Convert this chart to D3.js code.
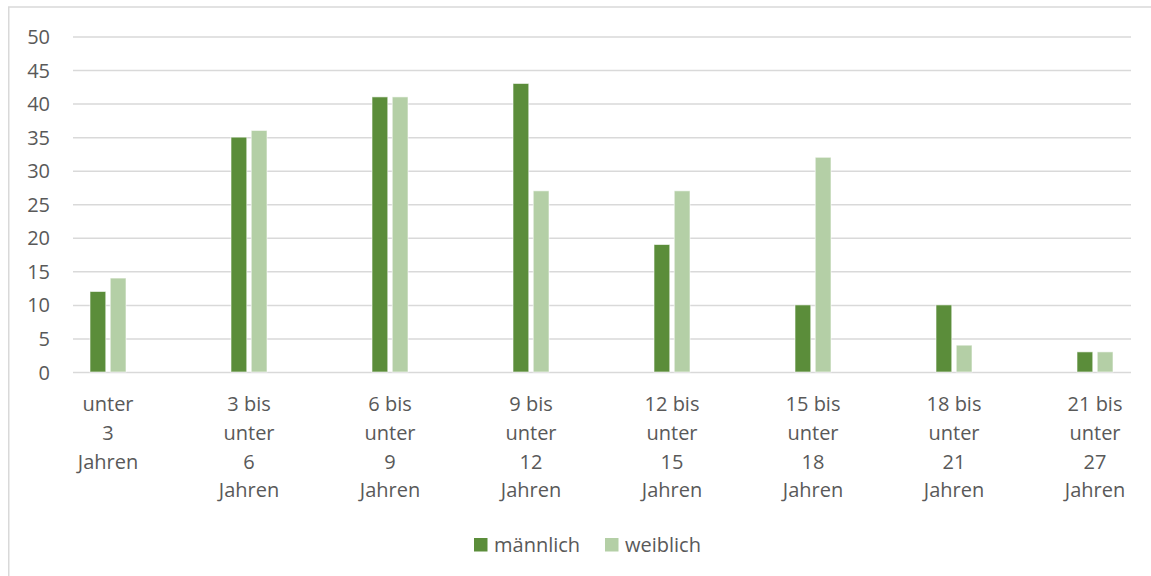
<!DOCTYPE html>
<html>
<head>
<meta charset="utf-8">
<script src="https://cdnjs.cloudflare.com/ajax/libs/d3/7.8.5/d3.min.js"></script>
<style>
  body { margin: 0; background: #fff; }
  svg text { font-family: "Open Sans", sans-serif; fill: #595959; }
</style>
</head>
<body>
<div id="chart"></div>
<script>
// Altersgruppen (mehrzeilige Beschriftung)
var categories = [
  ["unter", "3", "Jahren"],
  ["3 bis", "unter", "6", "Jahren"],
  ["6 bis", "unter", "9", "Jahren"],
  ["9 bis", "unter", "12", "Jahren"],
  ["12 bis", "unter", "15", "Jahren"],
  ["15 bis", "unter", "18", "Jahren"],
  ["18 bis", "unter", "21", "Jahren"],
  ["21 bis", "unter", "27", "Jahren"]
];
var seriesNames = ["männlich", "weiblich"];
var maennlich = [12, 35, 41, 43, 19, 10, 10, 3];
var weiblich = [14, 36, 41, 27, 27, 32, 4, 3];
var yTicks = [0, 5, 10, 15, 20, 25, 30, 35, 40, 45, 50];
var colors = ["#5b8d3a", "#b4cfa6"];

class BarChart {
    constructor(option) {
        for (let [key, value] of Object.entries(option)) {
            this[key] = value;
        }
        this.svg = d3.select(this.ele)
            .append("svg")
            .attr("width", this.width)
            .attr("height", this.height);
        this.draw();
    }
    draw() {
        var svg = this.svg;
        var keys = categories.map(function(d, i) { return i; });

        // Rahmen
        svg.append("rect")
            .attr("x", 8.75).attr("y", 7)
            .attr("width", 1300).attr("height", 800)
            .attr("fill", "none")
            .attr("stroke", "#d9d9d9")
            .attr("stroke-width", 1.5);

        var y = d3.scaleLinear().domain([0, 50]).range([372, 36.5]);
        var x = d3.scaleBand().domain(keys).range([37.5, 37.5 + 141 * 8]);
        var xs = d3.scaleBand().domain([0, 1]).range([-18, 18]).paddingInner(0.22);

        // Gitterlinien
        var yAxis = d3.axisLeft(y).tickValues(yTicks).tickSize(-(1131 - 73)).tickPadding(23);
        var gy = svg.append("g")
            .attr("transform", "translate(73,0)")
            .call(yAxis);
        gy.select(".domain").remove();
        gy.selectAll(".tick line").attr("stroke", "#d9d9d9").attr("stroke-width", 1.5);
        gy.selectAll(".tick text")
            .attr("font-size", 20)
            .attr("dy", "0.35em")
            .attr("fill", "#595959");

        // Balken
        var data = [maennlich, weiblich];
        var groups = svg.append("g").selectAll("g")
            .data(keys)
            .enter().append("g")
            .attr("transform", function(d) { return "translate(" + (x(d) + x.bandwidth() / 2) + ",0)"; });

        groups.selectAll("rect")
            .data(function(d) { return [0, 1].map(function(s) { return {s: s, v: data[s][d]}; }); })
            .enter().append("rect")
            .attr("x", function(d) { return xs(d.s); })
            .attr("width", xs.bandwidth())
            .attr("y", function(d) { return y(d.v); })
            .attr("height", function(d) { return y(0) - y(d.v); })
            .attr("fill", function(d) { return colors[d.s]; })
            .attr("stroke", "rgba(255,255,255,0.6)")
            .attr("stroke-width", 1);

        // Kategorienbeschriftung
        groups.append("text")
            .attr("text-anchor", "middle")
            .attr("font-size", 20)
            .selectAll("tspan")
            .data(function(d) { return categories[d]; })
            .enter().append("tspan")
            .attr("x", 0)
            .attr("y", function(d, i) { return 411 + i * 28.8; })
            .text(function(d) { return d; });

        // Legende
        var legendX = [474, 605];
        var legend = svg.append("g").selectAll("g")
            .data(seriesNames)
            .enter().append("g")
            .attr("transform", function(d, i) { return "translate(" + legendX[i] + ",538)"; });
        legend.append("rect")
            .attr("width", 13.5).attr("height", 13.5)
            .attr("fill", function(d, i) { return colors[i]; });
        legend.append("text")
            .attr("x", 20).attr("y", 14)
            .attr("font-size", 20)
            .text(function(d) { return d; });
    }
}

new BarChart({
    ele: document.getElementById("chart"),
    width: 1151,
    height: 576
});
</script>
</body>
</html>
